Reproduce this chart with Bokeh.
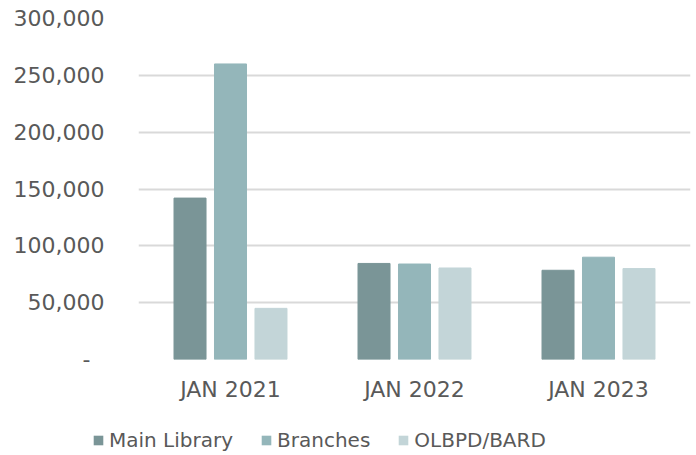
from bokeh.plotting import figure
from bokeh.layouts import column, row
from bokeh.models import ColumnDataSource, FactorRange, Legend, LegendItem, CustomJSTickFormatter, FixedTicker
from bokeh.transform import dodge
from bokeh.embed import file_html
from bokeh.resources import INLINE

categories = ["JAN 2021", "JAN 2022", "JAN 2023"]
main_library = [142000, 84500, 78500]
branches = [260000, 84000, 90000]
olbpd_bard = [45000, 80500, 80000]
series_names = ["Main Library", "Branches", "OLBPD/BARD"]
colors = ["#7A9597", "#94B6BA", "#C3D5D8"]
y_ticks = [0, 50000, 100000, 150000, 200000, 250000, 300000]

FONT = "DejaVu Sans"
TXT = "#595959"

source = ColumnDataSource(dict(cat=categories, main=main_library, br=branches, ol=olbpd_bard))

p = figure(x_range=FactorRange(*categories), y_range=(0, 300000),
           width=696, height=420, output_backend="svg", toolbar_location=None,
           min_border_left=138, min_border_right=6, min_border_top=18, min_border_bottom=61)
p.outline_line_color = None
p.background_fill_color = "white"
p.border_fill_color = "white"

for key, off, col in zip(["main", "br", "ol"], [-0.22, 0.0, 0.22], colors):
    p.vbar(x=dodge("cat", off, range=p.x_range), top=key, width=0.174, source=source,
           fill_color=col, line_color=col, line_width=1)

p.yaxis.ticker = FixedTicker(ticks=y_ticks)
p.yaxis.formatter = CustomJSTickFormatter(
    code="return tick == 0 ? '-\\u00a0\\u00a0' : tick.toLocaleString('en-US');")
p.yaxis.axis_line_color = None
p.yaxis.major_tick_line_color = None
p.yaxis.minor_tick_line_color = None
p.yaxis.major_label_text_font = FONT
p.yaxis.major_label_text_font_size = "22px"
p.yaxis.major_label_text_color = TXT
p.yaxis.major_label_standoff = 28

p.xaxis.axis_line_color = None
p.xaxis.major_tick_line_color = None
p.xaxis.major_label_text_font = FONT
p.xaxis.major_label_text_font_size = "22px"
p.xaxis.major_label_text_color = TXT
p.xaxis.major_label_standoff = 11

p.xgrid.grid_line_color = None
p.ygrid.grid_line_color = "#D9D9D9"
p.ygrid.grid_line_width = 2

# Legend strip below the chart: same bars, drawn far outside its view range
lg = figure(width=696, height=35, output_backend="svg", toolbar_location=None,
            x_range=FactorRange(*categories), y_range=(1e7, 2e7),
            x_axis_location=None, y_axis_location=None,
            min_border_left=0, min_border_right=0, min_border_top=0, min_border_bottom=0)
lg.grid.visible = False
lg.outline_line_color = None
lg.border_fill_color = "white"
items = []
for name, key, col in zip(series_names, ["main", "br", "ol"], colors):
    r = lg.vbar(x="cat", top=key, width=0.174, source=source, fill_color=col, line_color=None)
    items.append(LegendItem(label=name, renderers=[r]))

legend = Legend(items=items, orientation="horizontal", location=(92, 3))
legend.label_text_font = FONT
legend.label_text_font_size = "20px"
legend.label_text_color = TXT
legend.glyph_width = 12
legend.glyph_height = 12
legend.label_standoff = 5
legend.spacing = 27
legend.padding = 0
legend.margin = 0
legend.border_line_color = None
legend.background_fill_alpha = 0
lg.add_layout(legend, "center")

layout = column(p, row(lg, spacing=0), spacing=0)
open("out.html", "w").write(file_html(layout, INLINE))
